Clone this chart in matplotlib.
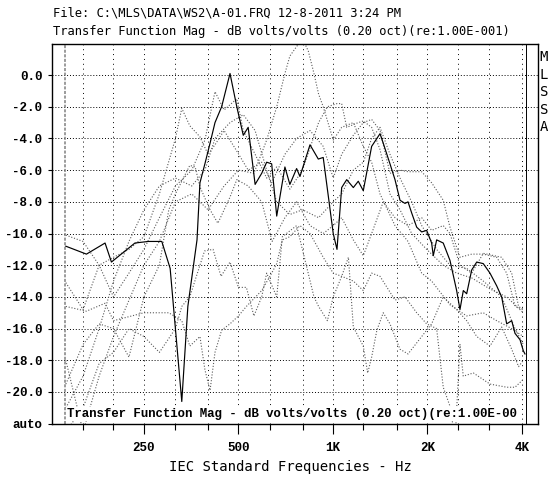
import numpy as np
import matplotlib
matplotlib.use('Agg')
from matplotlib import pyplot as plt
from matplotlib.ticker import FixedLocator, NullFormatter

# measured curve (solid) - Hz / dB
solid_f = [141, 164, 188, 197, 234, 258, 285, 303, 330, 345, 369, 377, 391, 406, 421, 442,
           470, 494, 518, 537, 565, 593, 615, 638, 662, 703, 729, 766, 785, 845, 898, 931,
           1002, 1030, 1066, 1106, 1161, 1204, 1249, 1328, 1412, 1446, 1519, 1576, 1635,
           1696, 1734, 1781, 1848, 1917, 1988, 2062, 2087, 2139, 2245, 2359, 2477, 2538,
           2601, 2666, 2766, 2870, 3011, 3163, 3322, 3446, 3575, 3709, 3800, 3942, 4039, 4089]
solid_db = [-10.8, -11.3, -10.6, -11.8, -10.6, -10.5, -10.5, -12.2, -20.6, -14.6, -10.4, -6.8,
            -5.6, -4.3, -3.0, -2.0, 0.1, -2.0, -3.8, -3.3, -6.9, -6.2, -5.5, -5.6, -8.9, -5.8,
            -6.9, -5.9, -6.4, -4.4, -5.3, -5.2, -10.0, -11.0, -7.1, -6.6, -7.1, -6.7, -7.3,
            -4.5, -3.7, -4.3, -5.6, -6.6, -7.9, -8.1, -8.0, -8.7, -9.6, -9.9, -9.8, -10.6,
            -11.4, -10.4, -10.6, -11.7, -13.6, -14.8, -13.6, -13.8, -12.3, -11.8, -11.9,
            -12.5, -13.3, -14.0, -15.7, -15.5, -16.3, -16.7, -17.4, -17.6]

# overlaid curves (dotted)
d1_f = [141, 160, 180, 200, 224, 250, 280, 315, 330, 350, 377, 400, 421, 450, 494, 537, 593, 638,
        703, 766, 845, 931, 1002, 1066, 1161, 1249, 1328, 1412, 1519, 1635, 1734, 1917, 2062,
        2245, 2359, 2538, 2766, 3011, 3322, 3575, 3800, 4039]
d1_db = [-13.1, -14.8, -12.0, -11.5, -11.0, -10.2, -7.5, -4.0, -2.1, -3.2, -3.9, -5.0, -4.4,
         -3.5, -4.8, -6.0, -5.5, -6.8, -5.0, -4.0, -3.5, -4.5, -6.5, -5.0, -3.8, -3.0, -2.8,
         -3.5, -6.2, -6.0, -6.1, -6.1, -6.8, -7.9, -9.6, -11.5, -11.3, -11.3, -11.5, -12.5,
         -14.6, -14.8]

d2_f = [141, 160, 180, 200, 250, 280, 315, 355, 400, 450, 500, 560, 615, 662, 703, 729, 766,
        800, 835, 870, 900, 931, 1002, 1066, 1161, 1249, 1328, 1412, 1576, 1734, 1917, 2062,
        2359, 2666, 3011, 3322, 3709, 4039]
d2_db = [-18.0, -22.5, -19.0, -16.5, -12.0, -10.5, -8.0, -7.5, -8.5, -7.0, -6.0, -6.2, -4.1,
         -2.0, 0.1, 1.2, 1.8, 2.3, 1.5, 0.1, -1.2, -2.0, -4.1, -3.3, -3.0, -4.5, -5.5, -7.5,
         -9.5, -10.5, -12.5, -13.0, -14.5, -15.2, -15.0, -15.5, -16.0, -16.5]

d3_f = [141, 160, 180, 200, 224, 250, 280, 315, 355, 391, 421, 450, 494, 518, 565, 615, 662,
        729, 800, 900, 960, 1030, 1066, 1106, 1204, 1249, 1328, 1412, 1519, 1635, 1781, 1988,
        2245, 2477, 2766, 3163, 3575, 4039]
d3_db = [-10.1, -10.5, -12.0, -14.0, -12.5, -11.0, -9.0, -7.0, -6.0, -4.1, -1.05, -2.2, -1.5,
         -3.5, -5.0, -6.5, -5.8, -7.2, -6.0, -3.0, -2.0, -1.8, -1.8, -3.3, -3.0, -2.9, -3.3,
         -4.7, -7.5, -8.5, -10.0, -11.0, -12.0, -12.5, -12.8, -13.5, -14.0, -15.0]

d4_f = [141, 164, 188, 200, 250, 300, 330, 350, 377, 391, 406, 421, 442, 470, 500, 530, 593,
        630, 662, 690, 729, 785, 845, 931, 1002, 1066, 1161, 1249, 1328, 1412, 1576, 1696,
        1848, 1988, 2139, 2245, 2359, 2450, 2538, 2600, 2800, 3163, 3575, 3800, 4039]
d4_db = [-14.6, -14.9, -14.4, -15.5, -15.0, -15.0, -15.5, -17.1, -16.5, -18.6, -19.9, -17.5,
         -16.1, -15.7, -15.2, -14.6, -13.6, -12.7, -11.9, -10.4, -10.2, -9.5, -10.0, -11.5,
         -12.5, -12.7, -13.0, -13.6, -12.5, -12.7, -14.2, -14.0, -15.0, -15.7, -16.0, -19.7,
         -20.9, -23.0, -17.0, -19.0, -18.8, -19.5, -19.7, -19.7, -19.2]

d5_f = [141, 160, 180, 200, 224, 250, 280, 315, 330, 350, 370, 390, 415, 440, 470, 500, 530,
        560, 593, 615, 662, 690, 766, 870, 900, 960, 1002, 1066, 1120, 1161, 1249, 1290, 1328,
        1380, 1446, 1519, 1635, 1734, 1917, 2062, 2245, 2477, 2666, 2870, 3163, 3446, 3709,
        3900, 4039]
d5_db = [-22.5, -21.0, -18.2, -17.5, -16.0, -16.5, -17.5, -16.0, -14.6, -14.0, -12.5, -11.1,
         -11.0, -12.7, -11.8, -13.4, -13.4, -15.2, -14.0, -12.5, -14.0, -10.2, -9.5, -14.0,
         -14.6, -15.5, -14.0, -12.7, -11.5, -15.9, -17.1, -18.8, -17.8, -16.1, -15.0, -15.7,
         -17.3, -17.6, -16.5, -15.7, -14.0, -14.8, -15.5, -16.5, -17.1, -15.9, -17.3, -18.4,
         -18.0]

d6_f = [141, 160, 180, 200, 224, 250, 280, 300, 315, 330, 350, 364, 377, 406, 430, 470, 494,
        537, 593, 640, 703, 766, 845, 931, 1002, 1066, 1161, 1249, 1328, 1446, 1576, 1734,
        1917, 2062, 2245, 2359, 2538, 2766, 3011, 3446, 3709, 3900, 4039]
d6_db = [-19.5, -17.0, -15.7, -16.0, -17.8, -14.0, -12.0, -8.5, -7.5, -6.7, -5.7, -5.8, -7.05,
         -8.5, -9.35, -7.7, -6.6, -7.0, -8.0, -10.5, -9.0, -8.0, -9.5, -10.0, -9.5, -9.0,
         -10.4, -11.4, -10.0, -8.0, -9.0, -9.5, -9.0, -9.8, -9.5, -10.0, -12.0, -12.5, -11.25,
         -11.5, -12.5, -14.6, -14.8]

d7_f = [141, 160, 180, 200, 224, 250, 280, 315, 355, 391, 421, 470, 518, 565, 615, 662, 729,
        800, 900, 1002, 1066, 1161, 1249, 1328, 1412, 1519, 1635, 1781, 1917, 2139, 2359,
        2666, 3011, 3446, 3800, 4039]
d7_db = [-21.0, -19.0, -16.0, -13.0, -10.5, -8.5, -7.0, -6.5, -7.0, -6.0, -4.0, -3.0, -2.5,
         -3.5, -6.0, -8.0, -8.8, -8.5, -9.0, -8.0, -7.5, -6.0, -5.5, -4.0, -3.3, -5.0, -6.5,
         -8.0, -9.5, -11.0, -12.0, -12.2, -13.0, -14.0, -16.0, -17.0]

dotted = [(d1_f, d1_db), (d2_f, d2_db), (d3_f, d3_db), (d4_f, d4_db),
          (d5_f, d5_db), (d6_f, d6_db), (d7_f, d7_db)]

grid_freqs = [160, 200, 250, 315, 400, 500, 630, 800, 1000, 1250, 1600, 2000, 2500, 3150, 4000]
label_freqs = [250, 500, 1000, 2000, 4000]
label_text = ['250', '500', '1K', '2K', '4K']
y_ticks = [0, -2, -4, -6, -8, -10, -12, -14, -16, -18, -20, -22]
y_text = ['0.0', '-2.0', '-4.0', '-6.0', '-8.0', '-10.0', '-12.0', '-14.0', '-16.0',
          '-18.0', '-20.0', 'auto']

mono = 'Liberation Mono'

fig = plt.figure(figsize=(5.5, 4.78), dpi=100)
ax = fig.add_axes([52 / 550, 1 - 424 / 478, 486 / 550, 380 / 478])
ax.set_xscale('log')
ax.set_xlim(127.4, 4498)
ax.set_ylim(-22.02, 1.96)

# grid
for f in grid_freqs:
    ax.axvline(f, color='black', lw=0.7, ls=(0, (1, 4)), zorder=1)
for v in y_ticks[:-1]:
    ax.axhline(v, color='black', lw=0.7, ls=(0, (1, 2)), zorder=1)

for f, db in dotted:
    ax.plot(f, db, color='#5a5a5a', lw=0.8, ls=(0, (1, 1.6)), zorder=2)
ax.plot(solid_f, solid_db, color='black', lw=0.85, zorder=3)

# marker lines
ax.axvline(140, color='#808080', lw=1.1, ls=(0, (2, 1)), zorder=2)
ax.axvline(4118, color='black', lw=0.7, zorder=3)

ax.xaxis.set_major_locator(FixedLocator(label_freqs))
ax.xaxis.set_minor_locator(FixedLocator([f for f in grid_freqs if f not in label_freqs]))
ax.xaxis.set_minor_formatter(NullFormatter())
ax.set_xticklabels(label_text, fontfamily=mono, fontweight='bold', fontsize=9)
ax.tick_params(axis='x', which='major', length=7, width=0.8, direction='out', pad=6)
ax.tick_params(axis='x', which='minor', length=4, width=0.8, direction='out')
ax.set_yticks(y_ticks)
ax.set_yticklabels(y_text, fontfamily=mono, fontweight='bold', fontsize=9)
ax.tick_params(axis='y', length=3, width=0.8, direction='out', pad=4)
for s in ax.spines.values():
    s.set_linewidth(1.0)

ax.text(0.031, 0.01, 'Transfer Function Mag - dB volts/volts (0.20 oct)(re:1.00E-00',
        transform=ax.transAxes, fontfamily=mono, fontweight='bold', fontsize=8.9,
        ha='left', va='bottom', zorder=5,
        bbox=dict(facecolor='white', edgecolor='none', pad=0.5))

fig.text(53 / 550, 1 - 13 / 478, r'File: C:\MLS\DATA\WS2\A-01.FRQ 12-8-2011 3:24 PM',
         fontfamily='DejaVu Sans Mono', fontsize=8.7, ha='left', va='center')
fig.text(53 / 550, 1 - 32 / 478, 'Transfer Function Mag - dB volts/volts (0.20 oct)(re:1.00E-001)',
         fontfamily='DejaVu Sans Mono', fontsize=8.7, ha='left', va='center')
fig.text(290 / 550, 1 - 467 / 478, 'IEC Standard Frequencies - Hz',
         fontfamily='DejaVu Sans Mono', fontsize=10, ha='center', va='center')
for i, ch in enumerate('MLSSA'):
    fig.text(544 / 550, 1 - (57 + 17.6 * i) / 478, ch, fontfamily='DejaVu Sans Mono',
             fontsize=10, ha='center', va='center')

plt.savefig('out.png', dpi=100)
